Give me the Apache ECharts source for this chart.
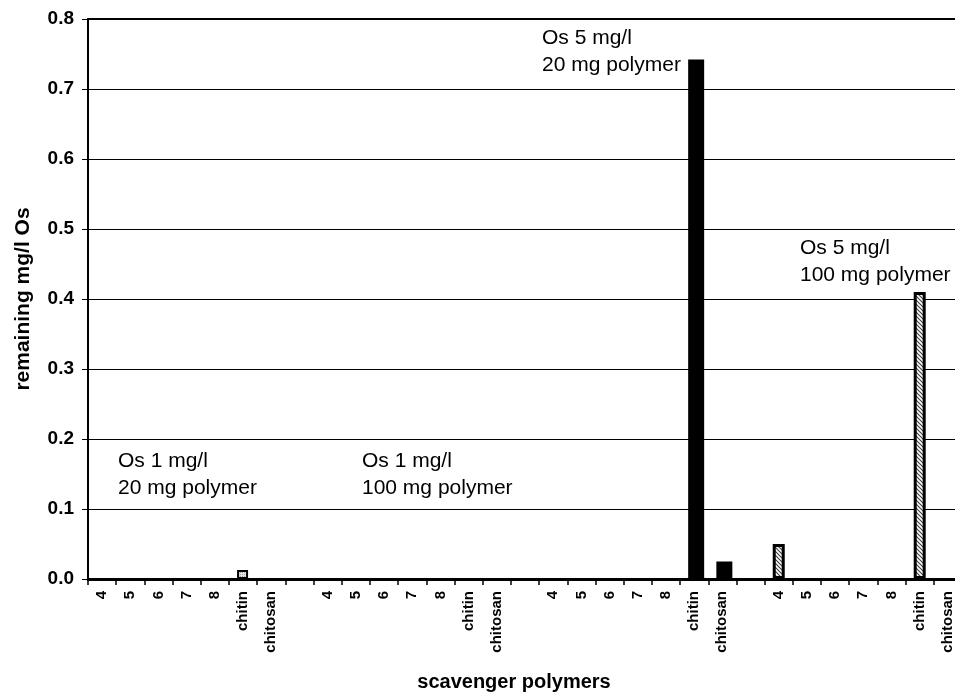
<!DOCTYPE html>
<html>
<head>
<meta charset="utf-8">
<script src="https://cdn.jsdelivr.net/npm/echarts@6/dist/echarts.min.js"></script>
<style>
html,body{margin:0;padding:0;background:#fff;}
#chart{width:955px;height:693px;}
</style>
</head>
<body>
<div id="chart"></div>
<script>
// ---- data ----
var groupLabels = ['4', '5', '6', '7', '8', 'chitin', 'chitosan'];
var os1mg_20mg  = [0, 0, 0, 0, 0, 0.013, 0];
var os1mg_100mg = [0, 0, 0, 0, 0, 0, 0];
var os5mg_20mg  = [0, 0, 0, 0, 0, 0.742, 0.025];
var os5mg_100mg = [0.05, 0, 0, 0, 0, 0.41, 0];
var annotations = [
  ['Os 1 mg/l', '20 mg polymer'],
  ['Os 1 mg/l', '100 mg polymer'],
  ['Os 5 mg/l', '20 mg polymer'],
  ['Os 5 mg/l', '100 mg polymer']
];
var yTicks = [0, 0.1, 0.2, 0.3, 0.4, 0.5, 0.6, 0.7, 0.8];

// ---- build ----
var groups = [os1mg_20mg, os1mg_100mg, os5mg_20mg, os5mg_100mg];
var categories = [];
groups.forEach(function (g, gi) {
  groupLabels.forEach(function (l) { categories.push(l); });
  if (gi < groups.length - 1) categories.push(' ');
});
function seriesData(gi) {
  var arr = [];
  for (var i = 0; i < categories.length; i++) arr.push(null);
  var off = gi * (groupLabels.length + 1);
  groups[gi].forEach(function (v, j) {
    arr[off + j] = v === 0 ? {value: 0, itemStyle: {opacity: 0, borderWidth: 0}} : v;
  });
  return arr;
}

function hatch() {
  var c = document.createElement('canvas');
  c.width = 4; c.height = 4;
  var ctx = c.getContext('2d');
  ctx.fillStyle = '#fff'; ctx.fillRect(0, 0, 4, 4);
  ctx.strokeStyle = '#444'; ctx.lineWidth = 1.2;
  ctx.beginPath();
  ctx.moveTo(-1, -1); ctx.lineTo(5, 5);
  ctx.moveTo(-1, 3); ctx.lineTo(1, 5);
  ctx.moveTo(3, -1); ctx.lineTo(5, 1);
  ctx.stroke();
  return c;
}
function dots() {
  var c = document.createElement('canvas');
  c.width = 2; c.height = 2;
  var ctx = c.getContext('2d');
  ctx.fillStyle = '#e2e2e2'; ctx.fillRect(0, 0, 2, 2);
  ctx.fillStyle = '#a8a8a8'; ctx.fillRect(0, 0, 1, 1);
  return c;
}

var FONT = 'Liberation Sans, Arial, sans-serif';
var chart = echarts.init(document.getElementById('chart'), null, {renderer: 'canvas'});

var styles = [
  {barWidth: 11, itemStyle: {color: {image: dots(), repeat: 'repeat'}, borderColor: '#000', borderWidth: 2}},
  {barWidth: 11, itemStyle: {color: '#fff', borderColor: '#000', borderWidth: 2}},
  {barWidth: 16, itemStyle: {color: '#000', borderColor: '#000', borderWidth: 0}},
  {barWidth: 12, itemStyle: {color: {image: hatch(), repeat: 'repeat'}, borderColor: '#000', borderWidth: 3}}
];
var series = groups.map(function (g, gi) {
  return {
    type: 'bar',
    data: seriesData(gi),
    barWidth: styles[gi].barWidth,
    barGap: '-100%',
    itemStyle: styles[gi].itemStyle,
    silent: true,
    animation: false
  };
});

// annotation positions (pixel layout)
var annPos = [[118, 461], [362, 461], [542, 38], [800, 248]];
var graphics = [];
annotations.forEach(function (a, i) {
  a.forEach(function (line, k) {
    graphics.push({
      type: 'text', x: annPos[i][0], y: annPos[i][1] + k * 27,
      style: {text: line, font: '21px ' + FONT, fill: '#000', verticalAlign: 'middle', align: 'left'},
      z: 10
    });
  });
});

chart.setOption({
  animation: false,
  backgroundColor: '#fff',
  grid: {left: 88, top: 19, width: 874, height: 560, containLabel: false, outerBoundsMode: 'none'},
  xAxis: [{
    type: 'category',
    data: categories,
    boundaryGap: true,
    axisLine: {lineStyle: {color: '#000', width: 3}},
    axisTick: {show: true, interval: 0, length: 6, lineStyle: {color: '#000', width: 1.5}},
    axisLabel: {interval: 0, rotate: 90, margin: 12, color: '#000', fontWeight: 'bold', fontSize: 15, fontFamily: FONT},
    splitLine: {show: false},
    name: 'scavenger polymers',
    nameLocation: 'middle',
    nameGap: 93,
    nameTextStyle: {color: '#000', fontWeight: 'bold', fontSize: 20, fontFamily: FONT, padding: [0, 22, 0, 0]}
  }, {
    type: 'category',
    position: 'top',
    data: categories,
    axisLine: {show: true, lineStyle: {color: '#000', width: 2}},
    axisTick: {show: false},
    axisLabel: {show: false}
  }],
  yAxis: {
    type: 'value',
    min: yTicks[0],
    max: yTicks[yTicks.length - 1],
    interval: 0.1,
    axisLine: {show: true, lineStyle: {color: '#000', width: 2}},
    axisTick: {show: true, length: 6, lineStyle: {color: '#000', width: 1}},
    axisLabel: {color: '#000', fontWeight: 'bold', fontSize: 19, fontFamily: FONT, margin: 14,
      formatter: function (v) { return v.toFixed(1); }},
    splitLine: {show: true, lineStyle: {color: '#000', width: 1}},
    name: 'remaining mg/l Os',
    nameLocation: 'middle',
    nameGap: 54,
    nameTextStyle: {color: '#000', fontWeight: 'bold', fontSize: 21, fontFamily: FONT}
  },
  series: series,
  graphic: graphics
});
</script>
</body>
</html>
